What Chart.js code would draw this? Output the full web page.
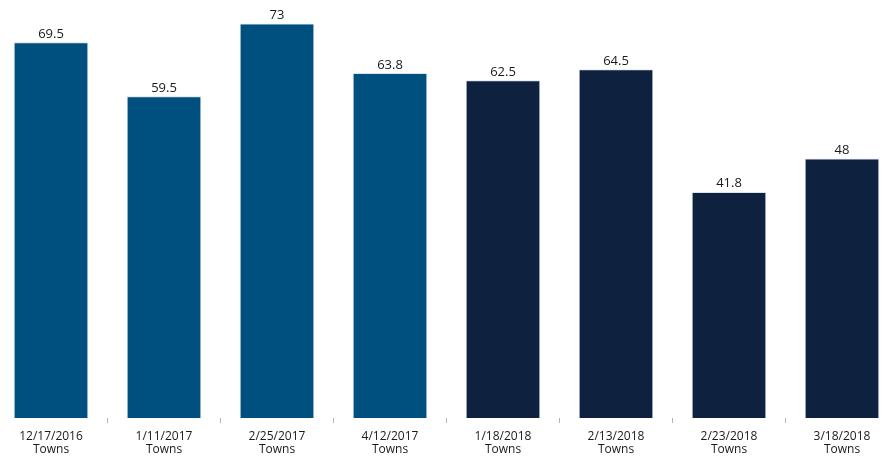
<!DOCTYPE html>
<html>
<head>
<meta charset="utf-8">
<script src="https://cdn.jsdelivr.net/npm/chart.js@4/dist/chart.umd.min.js"></script>
<style>
    html, body { margin: 0; padding: 0; background: #fff; overflow: hidden; }
    #wrap { width: 893px; height: 468px; position: relative; }
</style>
</head>
<body>
<div id="wrap"><canvas id="chart-towns"></canvas></div>
<script>
// Datos
const dates = ['12/17/2016', '1/11/2017', '2/25/2017', '4/12/2017', '1/18/2018', '2/13/2018', '2/23/2018', '3/18/2018'];
const kind = ['Towns', 'Towns', 'Towns', 'Towns', 'Towns', 'Towns', 'Towns', 'Towns'];
const values = [69.5, 59.5, 73, 63.8, 62.5, 64.5, 41.8, 48];
const years = [2016, 2017, 2017, 2017, 2018, 2018, 2018, 2018];

const colorOld = '#00507f';
const colorNew = '#0e223f';

// etiquetas de valor encima de cada barra
const valueLabels = {
    id: 'valueLabels',
    afterDatasetsDraw(chart) {
        const ctx = chart.ctx;
        const meta = chart.getDatasetMeta(0);
        ctx.save();
        ctx.font = '13px "Open Sans", sans-serif';
        ctx.fillStyle = '#1a1a1a';
        ctx.textAlign = 'center';
        ctx.textBaseline = 'bottom';
        meta.data.forEach((bar, i) => {
            ctx.fillText(String(values[i]), bar.x, bar.y - 2);
        });
        ctx.restore();
    }
};

new Chart(document.getElementById('chart-towns'), {
    type: 'bar',
    data: {
        labels: dates.map((d, i) => [d, kind[i]]),
        datasets: [{
            data: values,
            backgroundColor: years.map(y => y < 2018 ? colorOld : colorNew),
            borderColor: 'rgba(190,205,220,0.55)',
            borderWidth: 1,
            barThickness: 74,
            clip: false
        }]
    },
    options: {
        responsive: true,
        maintainAspectRatio: false,
        animation: false,
        layout: { padding: { left: 51, right: 51, top: 0, bottom: 0 } },
        plugins: {
            legend: { display: false },
            tooltip: { enabled: false }
        },
        scales: {
            x: {
                offset: false,
                border: { display: false },
                grid: { display: true, drawOnChartArea: false, tickLength: 5, color: '#b3b3b3' },
                ticks: {
                    color: '#1a1a1a',
                    padding: 7,
                    maxRotation: 0,
                    autoSkip: false,
                    font: { family: '"Open Sans", sans-serif', size: 12, lineHeight: 1.1 }
                },
                afterFit: scale => { scale.height = 50; }
            },
            y: {
                display: false,
                min: 0,
                max: 77.4
            }
        }
    },
    plugins: [valueLabels]
});
</script>
</body>
</html>
